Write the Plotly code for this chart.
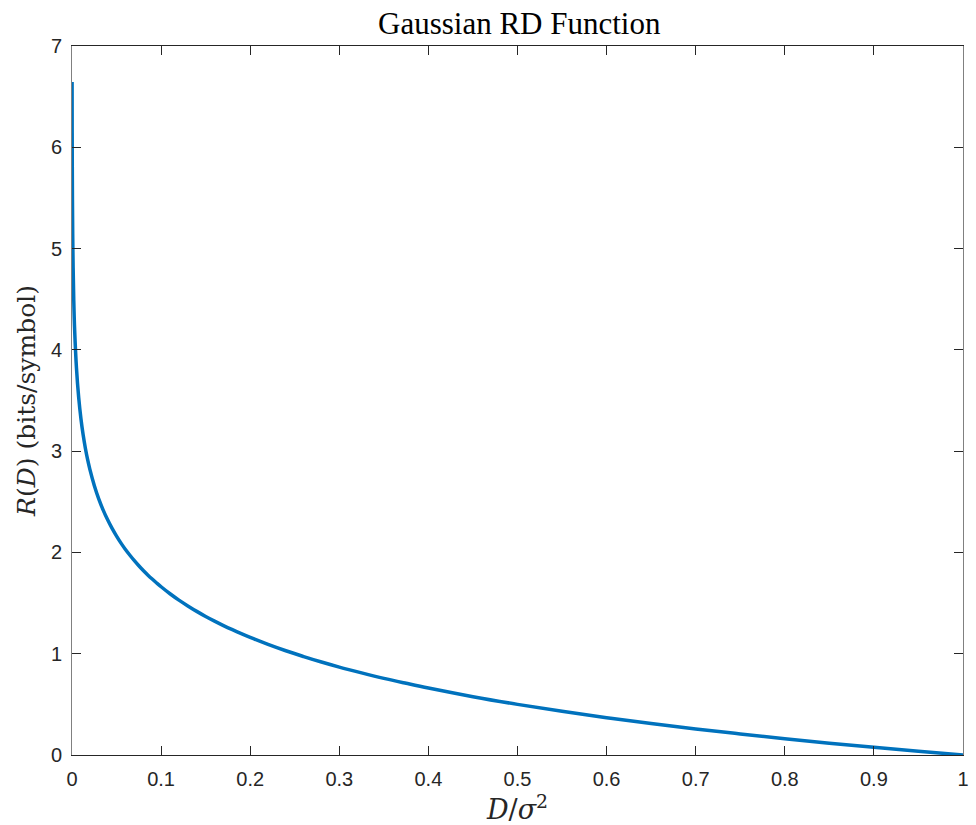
import plotly.graph_objects as go

# Distortion (normalised by variance) and rate in bits/symbol
distortion = [0.0001, 0.0002, 0.0005, 0.001, 0.002, 0.003, 0.005, 0.0075, 0.01,
              0.0125, 0.015, 0.0175, 0.02, 0.025, 0.03, 0.035, 0.04, 0.045, 0.05,
              0.055, 0.06, 0.065, 0.07, 0.075, 0.08, 0.085, 0.09, 0.095, 0.1,
              0.11, 0.12, 0.13, 0.14, 0.15, 0.16, 0.17, 0.18, 0.19, 0.2,
              0.22, 0.24, 0.26, 0.28, 0.3, 0.325, 0.35, 0.375, 0.4, 0.45, 0.5,
              0.55, 0.6, 0.65, 0.7, 0.75, 0.8, 0.85, 0.9, 0.95, 1.0]
rate = [6.644, 6.144, 5.483, 4.983, 4.483, 4.190, 3.822, 3.530, 3.322,
        3.161, 3.029, 2.918, 2.822, 2.661, 2.529, 2.418, 2.322, 2.237, 2.161,
        2.092, 2.029, 1.972, 1.918, 1.868, 1.822, 1.778, 1.737, 1.698, 1.661,
        1.592, 1.529, 1.472, 1.418, 1.368, 1.322, 1.278, 1.237, 1.198, 1.161,
        1.092, 1.029, 0.972, 0.918, 0.868, 0.811, 0.757, 0.708, 0.661, 0.576, 0.500,
        0.431, 0.368, 0.311, 0.257, 0.208, 0.161, 0.117, 0.076, 0.037, 0.0]

x_ticks = [0, 0.1, 0.2, 0.3, 0.4, 0.5, 0.6, 0.7, 0.8, 0.9, 1]
x_tick_text = ["0", "0.1", "0.2", "0.3", "0.4", "0.5", "0.6", "0.7", "0.8", "0.9", "1"]
y_ticks = [0, 1, 2, 3, 4, 5, 6, 7]

fig = go.Figure()
fig.add_trace(go.Scatter(
    x=distortion, y=rate, mode="lines",
    line=dict(color="#0072BD", width=3.5, shape="spline", smoothing=1.0),
    showlegend=False, hoverinfo="skip",
))

tick_font = dict(family="Liberation Sans, Arial, sans-serif", size=20, color="#262626")
title_serif = "Liberation Serif, DejaVu Serif, serif"
label_serif = "DejaVu Serif, Liberation Serif, serif"

fig.update_layout(
    width=976, height=825,
    margin=dict(l=72, r=7, t=46, b=70),
    paper_bgcolor="white", plot_bgcolor="white",
    title=dict(text="Gaussian RD Function", x=0.532, xanchor="center",
               y=0.972, yanchor="middle",
               font=dict(family=title_serif, size=31, color="black")),
)
fig.update_xaxes(
    range=[0, 1], tickvals=x_ticks, ticktext=x_tick_text,
    ticks="inside", ticklen=9, tickwidth=1, tickcolor="#262626",
    showline=True, linecolor="#262626", linewidth=1, mirror="ticks",
    showgrid=False, zeroline=False, tickfont=tick_font, ticklabelstandoff=6,
    title=dict(text="<i>D</i>/<i>σ</i><sup>2</sup>", standoff=0,
               font=dict(family=label_serif, size=27, color="#262626")),
)
fig.update_yaxes(
    range=[0, 7], tickvals=y_ticks,
    ticks="inside", ticklen=9, tickwidth=1, tickcolor="#262626",
    showline=True, linecolor="#808080", linewidth=1, mirror="ticks",
    showgrid=False, zeroline=False, tickfont=tick_font, ticklabelstandoff=5,
    title=dict(text="<i>R</i>(<i>D</i>) (bits/symbol)", standoff=8,
               font=dict(family=label_serif, size=25, color="#262626")),
)

fig.write_html("out.html")
